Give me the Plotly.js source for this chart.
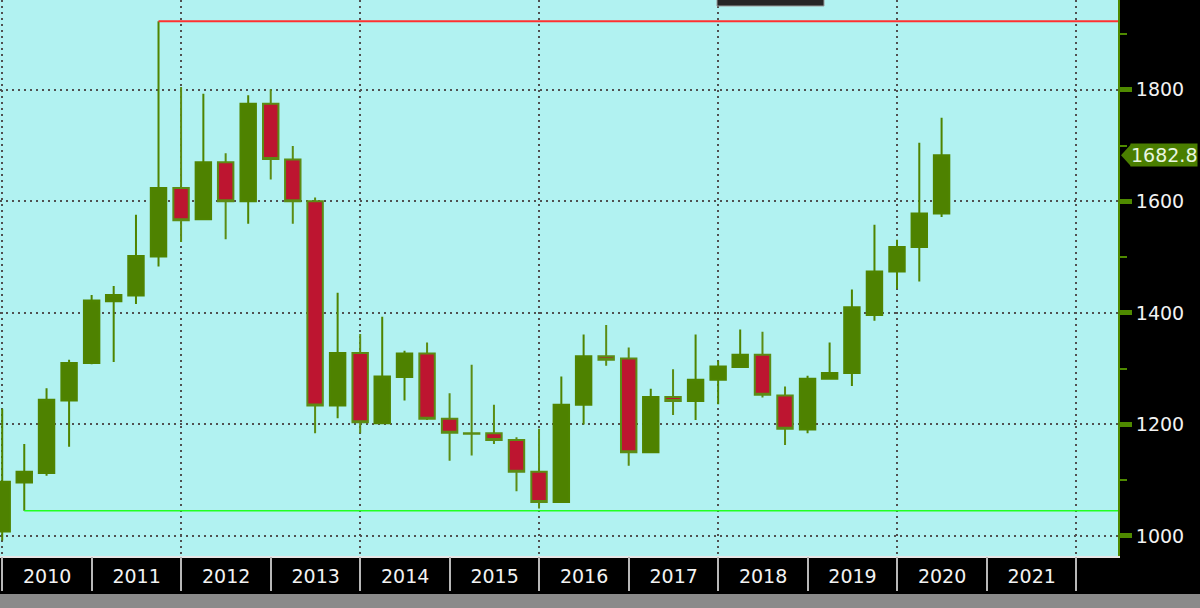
<!DOCTYPE html>
<html>
<head>
<meta charset="utf-8">
<script src="https://cdn.plot.ly/plotly-3.0.1.min.js"></script>
<style>
html,body{margin:0;padding:0;background:#000;}
#chart{width:1200px;height:608px;}
</style>
</head>
<body>
<div id="chart"></div>
<script>
// Quarterly candles (placed at quarter end)
const dates = [
  '2009-12-31',
  '2010-03-31','2010-06-30','2010-09-30','2010-12-31',
  '2011-03-31','2011-06-30','2011-09-30','2011-12-31',
  '2012-03-31','2012-06-30','2012-09-30','2012-12-31',
  '2013-03-31','2013-06-30','2013-09-30','2013-12-31',
  '2014-03-31','2014-06-30','2014-09-30','2014-12-31',
  '2015-03-31','2015-06-30','2015-09-30','2015-12-31',
  '2016-03-31','2016-06-30','2016-09-30','2016-12-31',
  '2017-03-31','2017-06-30','2017-09-30','2017-12-31',
  '2018-03-31','2018-06-30','2018-09-30','2018-12-31',
  '2019-03-31','2019-06-30','2019-09-30','2019-12-31',
  '2020-03-31','2020-06-30'
];
const opens = [
  1008,
  1096,1113,1243,1310,
  1421,1431,1501,1624,
  1568,1670,1600,1775,
  1675,1600,1234,1328,
  1202,1285,1327,1210,
  1184,1184,1172,1115,
  1061,1235,1322,1318,
  1150,1249,1242,1280,
  1303,1325,1252,1191,
  1282,1292,1396,1474,
  1518,1578
];
const highs = [
  1228,
  1165,1265,1316,1432,
  1448,1576,1923,1805,
  1793,1686,1790,1801,
  1699,1607,1436,1362,
  1393,1332,1347,1256,
  1307,1235,1177,1192,
  1286,1361,1378,1338,
  1264,1299,1361,1314,
  1370,1366,1268,1287,
  1347,1442,1558,1531,
  1705,1750
];
const lows = [
  992,
  1045,1108,1160,1308,
  1312,1416,1483,1527,
  1566,1532,1560,1639,
  1560,1184,1211,1184,
  1201,1243,1208,1135,
  1144,1165,1080,1049,
  1060,1200,1305,1126,
  1149,1217,1208,1236,
  1302,1248,1163,1184,
  1280,1269,1386,1443,
  1456,1572
];
const closes = [
  1097,
  1115,1244,1310,1422,
  1432,1502,1624,1566,
  1670,1600,1775,1676,
  1600,1234,1328,1204,
  1286,1327,1210,1185,
  1183,1172,1115,1061,
  1235,1322,1316,1150,
  1249,1242,1280,1304,
  1325,1253,1192,1282,
  1292,1410,1474,1518,
  1578,1682.8
];
const levelStart = '2010-01-01';

const xRange = ['2009-12-22', '2022-06-20'];
const yRange = [964, 1961];

const GREEN = '#4e8200';
const GRID = '#505050';
const TXT = '#f2f2f2';
const FONT = 'DejaVu Sans';

// extremes from 2010 on
let maxI = -1, minI = -1;
for (let i = 0; i < dates.length; i++) {
  if (dates[i] < levelStart) continue;
  if (maxI < 0 || highs[i] > highs[maxI]) maxI = i;
  if (minI < 0 || lows[i] < lows[minI]) minI = i;
}

const traces = [
  {type:'scatter', mode:'lines', x:[dates[maxI], xRange[1]], y:[highs[maxI], highs[maxI]],
   line:{color:'#ff3030', width:2}, hoverinfo:'skip', showlegend:false},
  {type:'scatter', mode:'lines', x:[dates[minI], xRange[1]], y:[lows[minI], lows[minI]],
   line:{color:'#22ff22', width:1.5}, hoverinfo:'skip', showlegend:false},
  {type:'candlestick', x:dates, open:opens, high:highs, low:lows, close:closes,
   increasing:{line:{color:'#4f8400', width:2}, fillcolor:GREEN},
   decreasing:{line:{color:'#5b8c14', width:2}, fillcolor:'#bd1530'},
   whiskerwidth:0, hoverinfo:'skip', showlegend:false},
  {type:'scatter', x:[], y:[], xaxis:'x2', showlegend:false, hoverinfo:'skip'}
];

const plotH = 556, plotW = 1118;
const last = closes.length - 1;
const lastPaper = (closes[last] - yRange[0]) / (yRange[1] - yRange[0]);
const hh = 11 / plotH;

const layout = {
  width:1200, height:608,
  margin:{l:0, r:1200-plotW, t:0, b:608-plotH},
  paper_bgcolor:'#000000',
  plot_bgcolor:'#b1f2f1',
  showlegend:false,
  hovermode:false,
  boxmode:'overlay',
  boxgap:0,
  boxgroupgap:0.3,
  xaxis:{
    type:'date', range:xRange, rangeslider:{visible:false},
    showgrid:true, gridcolor:GRID, griddash:'2px,4px', gridwidth:2,
    dtick:'M24', tick0:'2010-01-01',
    showticklabels:false, ticks:'',
    showline:true, linecolor:'#e6e6e6', linewidth:2, zeroline:false
  },
  xaxis2:{
    type:'date', overlaying:'x', matches:'x', anchor:'y', side:'bottom',
    range:xRange,
    dtick:'M12', tick0:'2010-01-01', ticklabelmode:'period', tickformat:'%Y',
    ticks:'outside', ticklen:34, tickcolor:'#b8b8b8', tickwidth:2,
    showgrid:false, zeroline:false, showline:false,
    ticklabelstandoff:-31,
    tickfont:{family:FONT, size:19, color:TXT}
  },
  yaxis:{
    side:'right', range:yRange, dtick:200, tick0:0,
    showgrid:true, gridcolor:GRID, griddash:'2px,4px', gridwidth:2,
    ticks:'outside', ticklen:12, tickwidth:5, tickcolor:'#4f8a00',
    showline:true, linecolor:'#4f8a00', linewidth:2, zeroline:false,
    tickfont:{family:FONT, size:19, color:TXT},
    minor:{dtick:100, tick0:0, ticks:'outside', ticklen:7, tickwidth:2, tickcolor:'#4f8a00', showgrid:false}
  },
  shapes:[
    {type:'rect', xref:'paper', yref:'paper', x0:717/plotW, x1:824/plotW, y0:1-6/plotH, y1:1.02,
     fillcolor:'#262626', line:{color:'#9a9a9a', width:1}},
    {type:'rect', xref:'paper', yref:'paper', x0:0, x1:1200/plotW, y0:-(608-plotH)/plotH, y1:-(594-plotH)/plotH,
     fillcolor:'#8a8a8a', line:{width:0}},
    {type:'path', xref:'paper', yref:'paper',
     path:'M '+(1131/plotW)+','+(lastPaper+hh)+' L '+(1121/plotW)+','+lastPaper+' L '+(1131/plotW)+','+(lastPaper-hh)+' Z',
     fillcolor:'#4a7e00', line:{width:0}}
  ],
  annotations:[
    {xref:'paper', yref:'paper', x:1130/plotW, y:lastPaper, xanchor:'left', yanchor:'middle',
     text:closes[last].toFixed(1), showarrow:false, bgcolor:'#4a7e00', borderpad:0,
     font:{family:FONT, size:19, color:'#e8f6e0'}}
  ]
};

Plotly.newPlot('chart', traces, layout, {staticPlot:true, displayModeBar:false});
</script>
</body>
</html>
